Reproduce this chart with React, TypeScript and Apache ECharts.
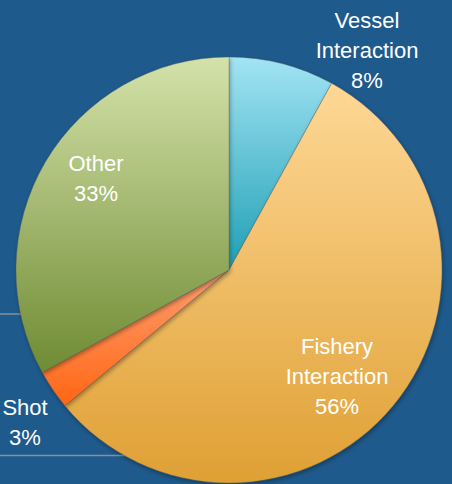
import React, { useEffect, useRef } from "react";
import * as echarts from "echarts";

const categories = ["Vessel\nInteraction", "Fishery\nInteraction", "Shot", "Other"];
const values = [8, 56, 3, 33];

// gradient colours (top, bottom) per slice
const gradTop = ["#a2e4f4", "#fed896", "#ff9e70", "#d4e2aa"];
const gradBottom = ["#1f9fb4", "#dfa034", "#ff6614", "#6f8b33"];
// label centres (layout only)
const labelPos: [number, number][] = [
  [367, 50],
  [337, 376],
  [25, 422],
  [96, 178],
];

export default function App() {
  const ref = useRef<HTMLDivElement>(null);
  useEffect(() => {
    if (!ref.current) return;
    const chart = echarts.init(ref.current, undefined, { renderer: "svg" });
    chart.setOption({
      animation: false,
      backgroundColor: "#1e5a8c",
      graphic: [
        {
          type: "line",
          z: 0,
          shape: { x1: 0, y1: 314, x2: 120, y2: 314 },
          style: { stroke: "#8a9098", lineWidth: 1.5 },
        },
        {
          type: "line",
          z: 0,
          shape: { x1: 0, y1: 455.5, x2: 200, y2: 455.5 },
          style: { stroke: "#8a9098", lineWidth: 1.5 },
        },
      ],
      series: [
        {
          type: "pie",
          z: 5,
          center: [229, 270],
          radius: 213,
          startAngle: 90,
          clockwise: true,
          label: {
            show: true,
            position: "inside",
            color: "#ffffff",
            fontFamily: "'Liberation Sans', Arial, sans-serif",
            fontSize: 22,
            lineHeight: 30,
            align: "center",
            formatter: (p: any) => `${p.name}\n${p.value}%`,
          },
          labelLine: { show: false },
          labelLayout: (p: any) => ({
            x: labelPos[p.dataIndex][0],
            y: labelPos[p.dataIndex][1],
            align: "center",
            verticalAlign: "middle",
          }),
          itemStyle: {
            borderColor: "rgba(90,90,90,0.45)",
            borderWidth: 0.8,
            shadowBlur: 4,
            shadowOffsetX: 1,
            shadowOffsetY: 2,
            shadowColor: "rgba(0,0,0,0.35)",
          },
          emphasis: { disabled: true },
          data: categories.map((name, i) => ({
            name,
            value: values[i],
            itemStyle: {
              color: new echarts.graphic.LinearGradient(0, 0, 0, 1, [
                { offset: 0, color: gradTop[i] },
                { offset: 1, color: gradBottom[i] },
              ]),
            },
          })),
        },
      ],
    });
    return () => chart.dispose();
  }, []);
  return (
    <div
      ref={ref}
      style={{ position: "fixed", left: 0, top: 0, width: 452, height: 484 }}
    />
  );
}
